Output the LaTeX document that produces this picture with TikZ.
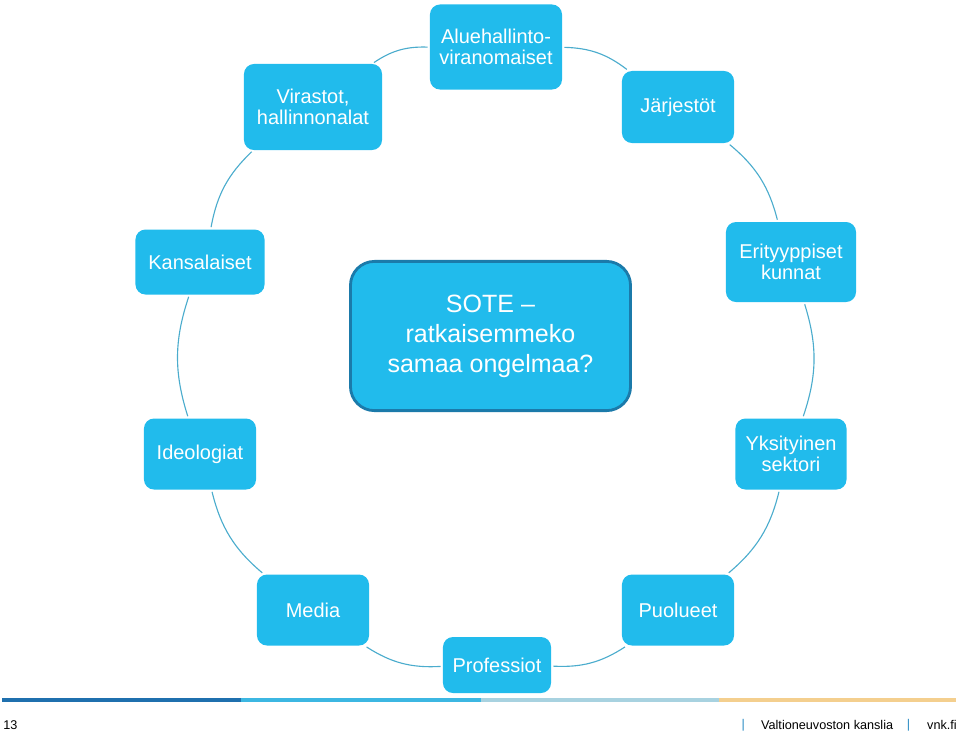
\documentclass[tikz,border=0pt]{standalone}
\usepackage{fontspec}
\setmainfont{Liberation Sans}
\usepackage{tikz}
\usetikzlibrary{positioning}
\usepackage{xcolor}
\definecolor{sotefill}{RGB}{33,187,236}
\definecolor{soteedge}{RGB}{27,122,170}
\definecolor{linkblue}{RGB}{75,172,205}
\definecolor{bardark}{RGB}{31,112,174}
\definecolor{barcyan}{RGB}{60,183,226}
\definecolor{barpale}{RGB}{168,210,224}
\definecolor{barsand}{RGB}{244,207,142}
\definecolor{sepblue}{RGB}{43,140,196}

\begin{document}
\begin{tikzpicture}[x=0.025cm, y=-0.025cm,
  actor/.style={fill=sotefill, rounded corners=0.25cm, text=white,
                align=center, inner sep=0pt,
                font=\fontsize{14.2}{15}\selectfont},
  hub/.style={fill=sotefill, draw=soteedge, line width=2pt,
              rounded corners=0.6cm, text=white, align=center,
              minimum width=7cm, minimum height=3.73cm,
              font=\fontsize{17.8}{21.3}\selectfont},
  link/.style={draw=linkblue, line width=0.8pt,
               shorten <=1.5pt, shorten >=1.5pt},
  foot/.style={font=\fontsize{9}{10}\selectfont, inner sep=0pt},
  ]
  \useasboundingbox (0,0) rectangle (959,733);
  \node[hub] (sote) at (490.5,336) {SOTE --\\ratkaisemmeko\\samaa ongelmaa?};
  \node[actor, minimum width=3.3cm, minimum height=2.125cm] (alue) at (496,47) {Aluehallinto-\\viranomaiset};
  \node[actor, minimum width=3.45cm, minimum height=2.15cm] (virastot) at (313,107) {Virastot,\\hallinnonalat};
  \node[actor, minimum width=2.8cm, minimum height=1.8cm] (jarjestot) at (678,107) {Järjestöt};
  \node[actor, minimum width=3.225cm, minimum height=1.625cm] (kansalaiset) at (200,262) {Kansalaiset};
  \node[actor, minimum width=3.25cm, minimum height=2cm] (erityyppiset) at (791,262) {Erityyppiset\\kunnat};
  \node[actor, minimum width=2.8cm, minimum height=1.775cm] (ideologiat) at (200,454) {Ideologiat};
  \node[actor, minimum width=2.775cm, minimum height=1.775cm] (yksityinen) at (791,454) {Yksityinen\\sektori};
  \node[actor, minimum width=2.8cm, minimum height=1.775cm] (media) at (313,610) {Media};
  \node[actor, minimum width=2.8cm, minimum height=1.775cm] (puolueet) at (678,610) {Puolueet};
  \node[actor, minimum width=2.7cm, minimum height=1.4cm] (professiot) at (497,665) {Professiot};
  % ring
  \draw[link] (alue) to[bend left=18] (jarjestot);
  \draw[link] (jarjestot) to[bend left=18] (erityyppiset);
  \draw[link] (erityyppiset) to[bend left=18] (yksityinen);
  \draw[link] (yksityinen) to[bend left=18] (puolueet);
  \draw[link] (puolueet) to[bend left=18] (professiot);
  \draw[link] (professiot) to[bend left=18] (media);
  \draw[link] (media) to[bend left=18] (ideologiat);
  \draw[link] (ideologiat) to[bend left=18] (kansalaiset);
  \draw[link] (kansalaiset) to[bend left=18] (virastot);
  \draw[link] (virastot) to[bend left=18] (alue);
  % footer
  \draw[bardark, line width=2.2pt] (2,700) -- (241,700);
  \draw[barcyan, line width=2.2pt] (241,700) -- (481,700);
  \draw[barpale, line width=2.2pt] (481,700) -- (719,700);
  \draw[barsand, line width=2.2pt] (719,700) -- (956,700);
  \node[foot, anchor=west] (pagenum) at (3,725) {13};
  \node[foot, anchor=east] (web) at (957,725) {vnk.fi};
  \node[foot, text=sepblue, left=0.41cm of web] (sepb) {|};
  \node[foot, left=0.33cm of sepb] (org) {Valtioneuvoston kanslia};
  \node[foot, text=sepblue, left=0.39cm of org] (sepa) {|};
\end{tikzpicture}
\end{document}
